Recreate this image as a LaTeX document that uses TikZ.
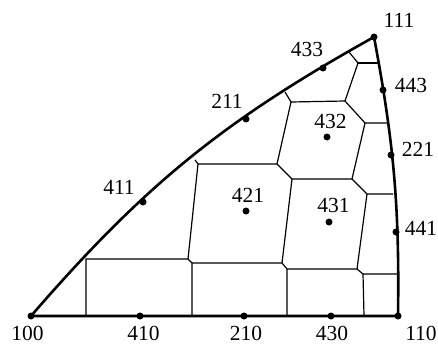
\documentclass[tikz,border=0pt]{standalone}
\usepackage{fontspec}
\setmainfont{Liberation Serif}
\begin{document}
\begin{tikzpicture}[x=1pt,y=-1pt,
  bound/.style={line width=2.6pt,line join=round},
  cell/.style={line width=1.2pt,line join=miter},
  dot/.style={circle,fill=black,inner sep=0pt,minimum size=7pt},
  lab/.style={inner sep=0pt,font=\fontsize{21.5}{23}\selectfont}]
\useasboundingbox (0,0) rectangle (438,345);
% corner and boundary dots
\node[dot] (n100) at (31,316) {};
\node[dot] (n110) at (398,316) {};
\node[dot] (n111) at (374,37) {};
\node[dot] (n410) at (140,316) {};
\node[dot] (n210) at (244,316) {};
\node[dot] (n430) at (331,316) {};
\node[dot] (n411) at (143,202) {};
\node[dot] (n211) at (246,119) {};
\node[dot] (n433) at (323,68) {};
\node[dot] (n443) at (383,90) {};
\node[dot] (n221) at (391,155) {};
\node[dot] (n441) at (396,232) {};
\node[dot] (n432) at (327,137) {};
\node[dot] (n421) at (246,211) {};
\node[dot] (n431) at (329,222) {};
% cell vertices
\coordinate (a1) at (86,259);
\coordinate (a2) at (195,160);
\coordinate (a3) at (285,92);
\coordinate (a4) at (349,52);
\coordinate (b1) at (86,316);
\coordinate (b2) at (192,316);
\coordinate (b3) at (287,316);
\coordinate (b4) at (364,316);
\coordinate (r1) at (379,63);
\coordinate (r2) at (387,123);
\coordinate (r3) at (393,194);
\coordinate (r4) at (397,274);
\coordinate (v1) at (188,259);
\coordinate (v2) at (192,263);
\coordinate (v3) at (198,164);
\coordinate (v4) at (277,164);
\coordinate (v5) at (291,102);
\coordinate (v6) at (345,101);
\coordinate (v7) at (358,63);
\coordinate (v8) at (365,123);
\coordinate (v9) at (292,179);
\coordinate (v10) at (352,179);
\coordinate (v11) at (367,194);
\coordinate (v12) at (282,263);
\coordinate (v13) at (287,269);
\coordinate (v14) at (357,269);
\coordinate (v15) at (363,274);
% cell network
\draw[cell] (b1) -- (a1) -- (v1) -- (v2) -- (b2);
\draw[cell] (v1) -- (v3) -- (a2);
\draw[cell] (v3) -- (v4) -- (v5) -- (a3);
\draw[cell] (v5) -- (v6) -- (v7) -- (a4);
\draw[cell] (v7) -- (r1);
\draw[cell] (v6) -- (v8) -- (r2);
\draw[cell] (v8) -- (v10);
\draw[cell] (v4) -- (v9) -- (v10) -- (v11) -- (r3);
\draw[cell] (v9) -- (v12);
\draw[cell] (v2) -- (v12) -- (v13) -- (b3);
\draw[cell] (v13) -- (v14) -- (v15) -- (r4);
\draw[cell] (v11) -- (v14);
\draw[cell] (v15) -- (b4);
% boundary
\draw[bound] (n100.center) to[bend left=10] (n111.center)
  to[bend left=5.7] (n110.center) -- cycle;
% labels
\node[lab] (t111) at (399,20) {111};
\node[lab] (t433) at (307,49) {433};
\node[lab] (t443) at (411,85.5) {443};
\node[lab] (t221) at (418,149.5) {221};
\node[lab] (t441) at (421,228.5) {441};
\node[lab] (t211) at (227,101.5) {211};
\node[lab] (t411) at (119,187.5) {411};
\node[lab] (t432) at (330.5,121.5) {432};
\node[lab] (t421) at (248,195.5) {421};
\node[lab] (t431) at (333.5,205) {431};
\node[lab] (t100) at (27.5,333) {100};
\node[lab] (t410) at (143.5,333) {410};
\node[lab] (t210) at (246,333) {210};
\node[lab] (t430) at (332,333) {430};
\node[lab] (t110) at (421,333) {110};
\end{tikzpicture}
\end{document}
